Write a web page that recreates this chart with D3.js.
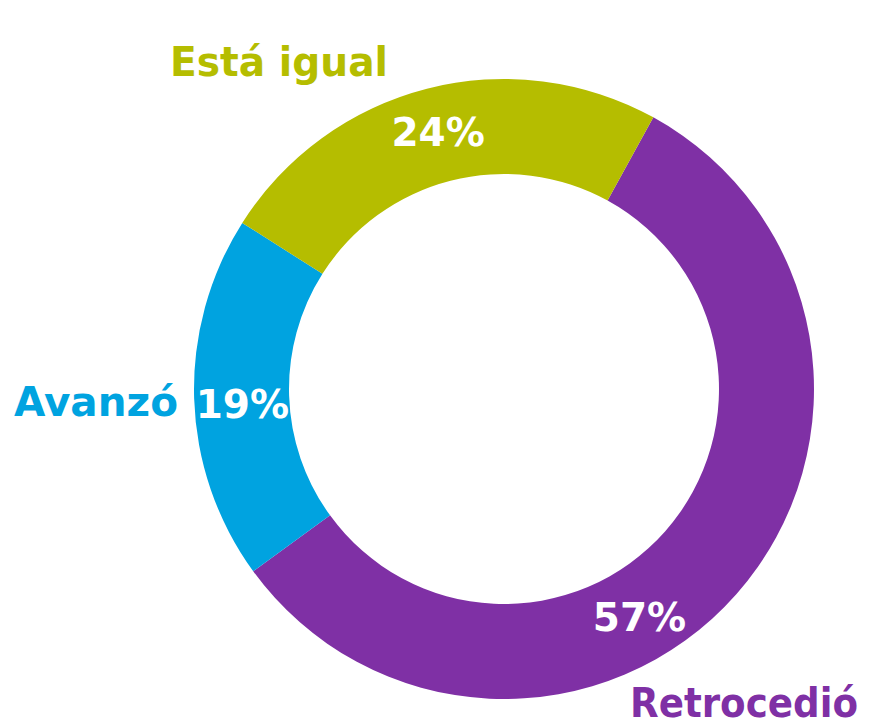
<!DOCTYPE html>
<html lang="es">
<head>
<meta charset="UTF-8">
<title>Donut</title>
<script src="https://d3js.org/d3.v7.min.js"></script>
<style>
    body { margin: 0; background: #fff; }
    text { font-family: "DejaVu Sans", sans-serif; font-weight: bold; }
</style>
</head>
<body>
<div id="chart"></div>
<script>
    // data
    const categories = ["Retrocedió", "Avanzó", "Está igual"];
    const values = [57, 19, 24];
    const colors = ["#7f30a5", "#00a3e0", "#b5bd00"];

    const width = 879, height = 724;
    const cx = 504, cy = 389;
    const outerR = 310, innerR = 215;

    const svg = d3.select("#chart").append("svg")
        .attr("width", width)
        .attr("height", height);

    const g = svg.append("g").attr("transform", `translate(${cx},${cy})`);

    const startA = 28.8 * Math.PI / 180;
    const pie = d3.pie().sort(null)
        .startAngle(startA)
        .endAngle(startA + 2 * Math.PI)
        .value(d => d);

    const arc = d3.arc().innerRadius(innerR).outerRadius(outerR);
    const arcs = pie(values);

    g.selectAll("path.slice")
        .data(arcs)
        .enter().append("path")
        .attr("class", "slice")
        .attr("fill", (d, i) => colors[i])
        .attr("d", arc);

    // percent labels, placed along each slice
    const labelFrac = [0.587, 0.48, 0.5];
    const labelR = 265;
    const labelAngle = (d, i) => d.startAngle + (d.endAngle - d.startAngle) * labelFrac[i];
    g.selectAll("text.pct")
        .data(arcs)
        .enter().append("text")
        .attr("class", "pct")
        .attr("fill", "#fff")
        .attr("font-size", 39)
        .attr("text-anchor", "middle")
        .attr("x", (d, i) => labelR * Math.sin(labelAngle(d, i)) + (i === 1 ? 3 : 0))
        .attr("y", (d, i) => -labelR * Math.cos(labelAngle(d, i)) + 14)
        .text(d => d.data + "%");

    // category labels
    const catPos = [
        { x: cx + 354, y: cy + 328, anchor: "end", len: 228 },
        { x: cx - 326, y: cy + 27, anchor: "end", len: 164 },
        { x: cx - 225, y: cy - 313, anchor: "middle", len: 218 }
    ];
    svg.selectAll("text.cat")
        .data(categories)
        .enter().append("text")
        .attr("class", "cat")
        .attr("fill", (d, i) => colors[i])
        .attr("font-size", 41)
        .attr("text-anchor", (d, i) => catPos[i].anchor)
        .attr("x", (d, i) => catPos[i].x)
        .attr("y", (d, i) => catPos[i].y)
        .attr("textLength", (d, i) => catPos[i].len)
        .attr("lengthAdjust", "spacingAndGlyphs")
        .text(d => d);
</script>
</body>
</html>
